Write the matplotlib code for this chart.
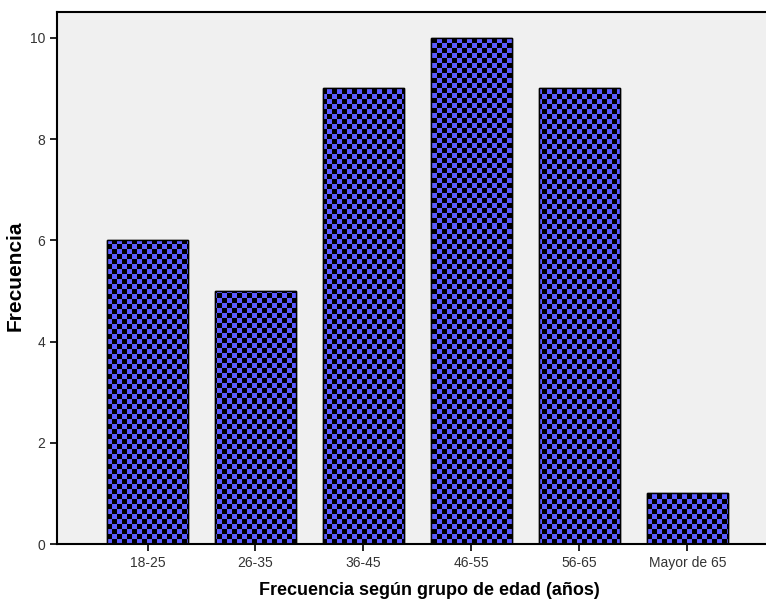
import matplotlib
matplotlib.use("Agg")
import matplotlib.pyplot as plt
import numpy as np
from matplotlib.colors import ListedColormap

grupos = ["18-25", "26-35", "36-45", "46-55", "56-65", "Mayor de 65"]
frecuencia = [6, 5, 9, 10, 9, 1]

W, H = 766, 604
fig = plt.figure(figsize=(W / 100, H / 100), dpi=100)
ax = fig.add_axes([57 / W, 1 - 544 / H, 1 - 57 / W, (544 - 12) / H])
ax.set_facecolor("#f0f0f0")

x = np.arange(len(grupos))
bars = ax.bar(x, frecuencia, width=0.75, color="#5c5cff", edgecolor="black", linewidth=1, zorder=2)

ax.set_xlim(-0.838, 5.727)
ax.set_ylim(0, 10.51)

# patron de tablero de ajedrez dentro de cada barra
cell = 5
aw, ah = W - 57, 544 - 12
nx, ny = aw // cell + 1, ah // cell + 1
chk = (np.add.outer(np.arange(ny), np.arange(nx)) % 2).astype(float)
cmap = ListedColormap(["#5c5cff", "#000000"])
for b in bars:
    im = ax.imshow(chk, cmap=cmap, interpolation="nearest", origin="lower",
                   extent=[0, nx * cell / aw, 0, ny * cell / ah],
                   transform=ax.transAxes, aspect="auto", zorder=2.5)
    im.set_clip_path(b)
    b2 = plt.Rectangle(b.get_xy(), b.get_width(), b.get_height(),
                       fill=False, edgecolor="black", linewidth=1, zorder=3)
    ax.add_patch(b2)

ax.set_xticks(x)
ax.set_xticklabels(grupos)
ax.set_yticks(range(0, 11, 2))
ax.spines["right"].set_visible(False)
for s in ["left", "bottom", "top"]:
    ax.spines[s].set_linewidth(1.5)
ax.tick_params(axis="both", direction="out", length=5, width=1.2, colors="black",
               labelcolor="#333333", labelsize=10)
for lab in ax.get_xticklabels() + ax.get_yticklabels():
    lab.set_family(["Liberation Sans", "DejaVu Sans"])

ax.set_xlabel("Frecuencia según grupo de edad (años)", fontsize=13, fontweight="bold",
              family=["Liberation Sans", "DejaVu Sans"])
ax.xaxis.set_label_coords((429 - 57) / aw, (544 - 582) / ah)
ax.set_ylabel("Frecuencia", fontsize=15, fontweight="bold",
              family=["Liberation Sans", "DejaVu Sans"])
ax.yaxis.set_label_coords((25 - 57) / aw, (544 - 276) / ah)

fig.savefig("out.png", dpi=100)
